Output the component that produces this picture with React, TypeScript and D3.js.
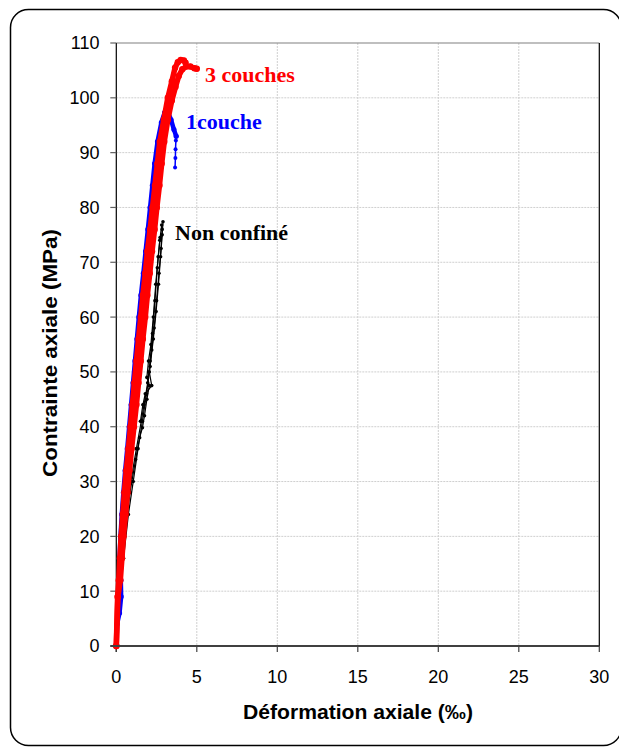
import React from "react";
import * as d3 from "d3";

type P = [number, number];

const xTicks = [0, 5, 10, 15, 20, 25, 30];
const yTicks = [0, 10, 20, 30, 40, 50, 60, 70, 80, 90, 100, 110];

const redA: P[] = [
  [0, 0], [0.08, 9], [0.15, 12], [0.22, 16], [0.3, 20], [0.4, 24], [0.5, 28], [0.62, 32],
  [0.75, 36], [0.88, 40], [1.0, 44], [1.12, 48], [1.25, 52], [1.38, 56], [1.52, 60],
  [1.65, 64], [1.8, 68], [1.93, 72], [2.1, 76], [2.25, 80], [2.4, 84], [2.55, 88],
  [2.7, 92], [2.95, 96], [3.2, 100], [3.45, 103], [3.65, 105.5], [3.82, 106.5],
  [4.0, 106.9], [4.2, 106.8], [4.3, 106.4],
];

const redB: P[] = [
  [0, 0], [0.1, 9], [0.25, 12], [0.35, 16], [0.45, 20], [0.58, 24], [0.7, 28], [0.82, 32],
  [0.95, 36], [1.1, 40], [1.25, 44], [1.38, 48], [1.52, 52], [1.65, 56], [1.8, 60],
  [1.93, 64], [2.08, 68], [2.22, 72], [2.38, 76], [2.52, 80], [2.68, 84], [2.82, 88],
  [2.98, 92], [3.2, 96], [3.45, 99.5], [3.68, 102], [3.88, 104], [4.1, 105.2],
  [4.35, 105.7], [4.6, 105.7], [4.85, 105.4], [5.0, 105.3],
];

const blueMain: P[] = [
  [0, 0], [0.05, 4], [0.2, 6], [0.3, 9], [0.28, 12], [0.2, 16], [0.26, 20], [0.34, 24],
  [0.44, 28], [0.55, 32], [0.68, 36], [0.8, 40], [0.92, 44], [1.04, 48], [1.16, 52],
  [1.28, 56], [1.4, 60], [1.53, 64], [1.68, 68], [1.82, 72], [1.96, 76], [2.1, 80],
  [2.24, 84], [2.38, 88], [2.56, 92], [2.8, 95.5], [3.0, 97.3], [3.2, 97.5],
  [3.4, 96], [3.58, 94.2], [3.72, 93],
];

const blueTail: P[] = [
  [3.72, 93], [3.7, 92.2], [3.68, 90.6], [3.67, 89], [3.65, 87.3],
];

const black1: P[] = [
  [0, 0], [0.2, 8], [0.45, 16], [0.75, 24], [1.05, 30], [1.35, 36], [1.62, 41],
  [1.88, 46], [2.1, 51], [2.3, 56], [2.47, 61], [2.62, 66], [2.75, 71], [2.85, 75],
  [2.9, 77.4],
];
const black2: P[] = [
  [0, 0], [0.15, 8], [0.4, 16], [0.65, 24], [0.9, 30], [1.25, 36], [1.55, 41],
  [1.72, 44], [1.95, 48], [2.1, 52], [2.25, 57], [2.4, 63], [2.55, 69], [2.7, 74],
  [2.82, 76.8],
];
const black3: P[] = [
  [0, 0], [0.2, 10], [0.5, 20], [0.85, 28], [1.2, 34], [1.45, 38], [1.62, 39.8],
  [1.75, 42], [1.9, 45], [2.05, 47.5], [1.9, 49], [2.0, 52], [2.15, 55], [2.3, 60],
  [2.45, 66], [2.6, 71], [2.72, 74.5],
];
const black4: P[] = [
  [1.5, 41], [1.65, 44], [1.8, 46], [2.2, 47.5], [2.05, 50], [2.2, 54], [2.35, 58],
  [2.5, 63], [2.65, 68], [2.78, 72.5], [2.85, 76],
];

const labels = [
  { text: "3 couches", x: 5.51, y: 102.9, color: "#ff0000" },
  { text: "1couche", x: 4.33, y: 94.3, color: "#0000ff" },
  { text: "Non confiné", x: 3.65, y: 74.1, color: "#000000" },
];

const W = 619;
const H = 747;

export default function App() {
  const x = d3.scaleLinear().domain([0, 30]).range([116.3, 599.3]);
  const y = d3.scaleLinear().domain([0, 110]).range([646, 43]);
  const line = d3
    .line<P>()
    .x((d) => x(d[0]))
    .y((d) => y(d[1]));

  const sans = "'Liberation Sans', Arial, sans-serif";
  const serif = "'Liberation Serif', 'Times New Roman', serif";

  const series = (
    data: P[],
    color: string,
    sw: number,
    r: number,
    key: string
  ) => (
    <g key={key}>
      <path
        d={line(data) || ""}
        fill="none"
        stroke={color}
        strokeWidth={sw}
        strokeLinejoin="round"
        strokeLinecap="round"
      />
      {data.map((d, i) => (
        <circle key={i} cx={x(d[0])} cy={y(d[1])} r={r} fill={color} />
      ))}
    </g>
  );

  return (
    <svg
      width={W}
      height={H}
      style={{ position: "absolute", left: 0, top: 0 }}
    >
      <rect x={0} y={0} width={W} height={H} fill="#ffffff" />
      <rect
        x={10.5}
        y={9.5}
        width={611}
        height={736}
        rx={18}
        fill="#ffffff"
        stroke="#000"
        strokeWidth={1.5}
      />
      {/* grid */}
      {xTicks.slice(1, -1).map((t) => (
        <line
          key={"gx" + t}
          x1={x(t)}
          x2={x(t)}
          y1={y(110)}
          y2={y(0)}
          stroke="#cfcfcf"
          strokeWidth={1}
          strokeDasharray="2,1"
        />
      ))}
      {yTicks.slice(1, -1).map((t) => (
        <line
          key={"gy" + t}
          x1={x(0)}
          x2={x(30)}
          y1={y(t)}
          y2={y(t)}
          stroke="#cfcfcf"
          strokeWidth={1}
          strokeDasharray="2,1"
        />
      ))}
      {/* frame */}
      <line x1={x(0)} x2={x(30)} y1={y(110)} y2={y(110)} stroke="#808080" strokeWidth={1.2} />
      <line x1={x(30)} x2={x(30)} y1={y(110)} y2={y(0)} stroke="#000" strokeWidth={1.2} />
      {/* y axis */}
      <line x1={x(0)} x2={x(0)} y1={y(110)} y2={y(0) + 6} stroke="#000" strokeWidth={1.2} />
      {yTicks.map((t) => (
        <g key={"yt" + t}>
          <line x1={x(0) - 6} x2={x(0)} y1={y(t)} y2={y(t)} stroke="#606060" strokeWidth={1.2} />
          <text
            x={99.5}
            y={y(t)}
            dy="0.36em"
            textAnchor="end"
            fontFamily={sans}
            fontSize={18}
            fill="#000"
          >
            {t}
          </text>
        </g>
      ))}
      {/* x axis */}
      {xTicks.map((t) => (
        <g key={"xt" + t}>
          <line x1={x(t)} x2={x(t)} y1={y(0)} y2={y(0) + 6} stroke="#404040" strokeWidth={1.2} />
          <text
            x={x(t)}
            y={683}
            textAnchor="middle"
            fontFamily={sans}
            fontSize={18}
            fill="#000"
          >
            {t}
          </text>
        </g>
      ))}
      {/* series */}
      {series(black3, "#000", 1.2, 1.8, "k3")}
      {series(black4, "#000", 1.2, 1.8, "k4")}
      {series(black2, "#000", 1.2, 1.8, "k2")}
      {series(black1, "#000", 1.2, 1.8, "k1")}
      {series(blueMain, "#0000ff", 4.5, 2.6, "bm")}
      {series(blueTail, "#0000ff", 1.5, 2, "bt")}
      {series(redB, "#ff0000", 5.5, 3.2, "rb")}
      {series(redA, "#ff0000", 5.5, 3.2, "ra")}
      <line x1={x(0) - 6} x2={x(30)} y1={y(0)} y2={y(0)} stroke="#404040" strokeWidth={2} />
      {/* labels */}
      {labels.map((l) => (
        <text
          key={l.text}
          x={x(l.x)}
          y={y(l.y)}
          fontFamily={serif}
          fontWeight="bold"
          fontSize={22}
          fill={l.color}
        >
          {l.text}
        </text>
      ))}
      {/* axis titles */}
      <text
        x={358}
        y={719}
        textAnchor="middle"
        fontFamily={sans}
        fontWeight="bold"
        fontSize={20}
        textLength={230}
        lengthAdjust="spacingAndGlyphs"
      >
        Déformation axiale (‰)
      </text>
      <text
        transform="translate(57,353) rotate(-90)"
        textAnchor="middle"
        fontFamily={sans}
        fontWeight="bold"
        fontSize={20}
        textLength={248}
        lengthAdjust="spacingAndGlyphs"
      >
        Contrainte axiale (MPa)
      </text>
    </svg>
  );
}
